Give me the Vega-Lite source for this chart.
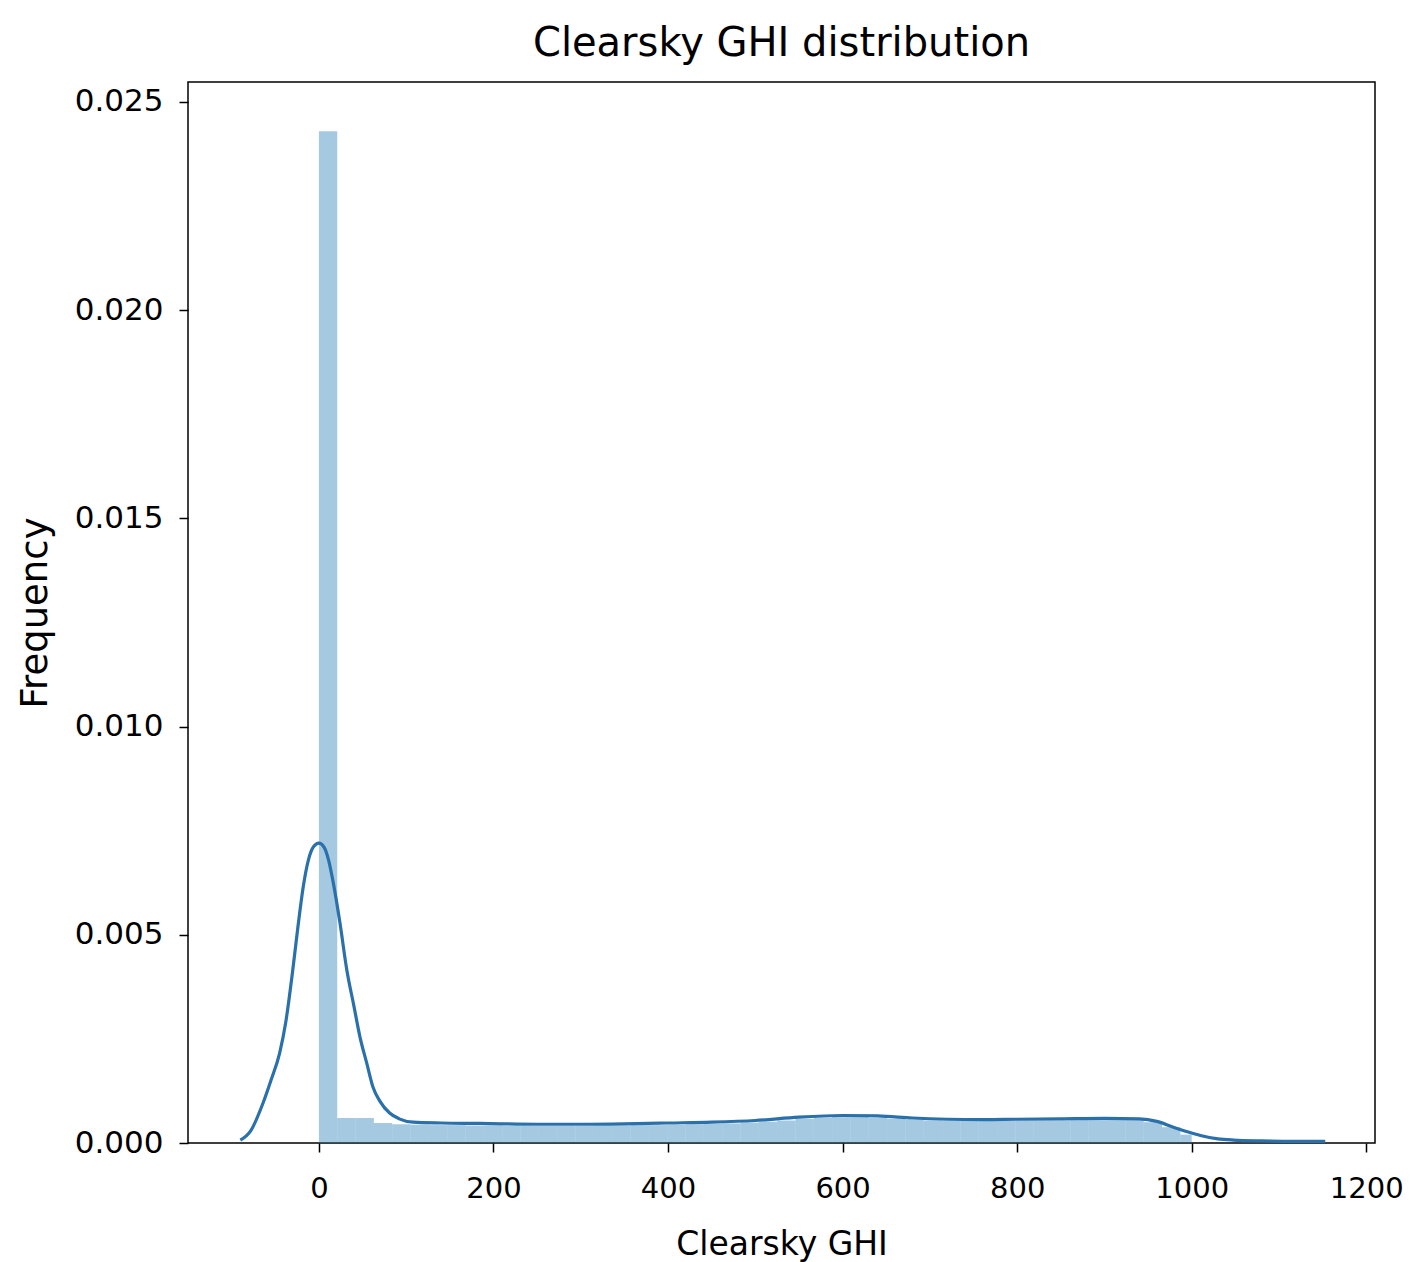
{
  "$schema": "https://vega.github.io/schema/vega-lite/v6.json",
  "autosize": {"type": "none"},
  "width": 1187,
  "height": 1061,
  "padding": {"left": 188, "top": 82, "right": 35, "bottom": 119},
  "background": "white",
  "config": {
    "font": "DejaVu Sans",
    "view": {"stroke": "black", "strokeWidth": 1.5},
    "axis": {
      "grid": false,
      "domain": false,
      "tickColor": "black",
      "tickSize": 9,
      "tickWidth": 1.5,
      "labelColor": "black",
      "labelFont": "DejaVu Sans",
      "labelFontSize": 29,
      "titleFont": "DejaVu Sans",
      "titleFontSize": 33,
      "titleFontWeight": "normal",
      "titleColor": "black"
    }
  },
  "title": {
    "text": "Clearsky GHI distribution",
    "fontSize": 40,
    "fontWeight": "normal",
    "font": "DejaVu Sans",
    "color": "black",
    "anchor": "middle",
    "offset": 18
  },
  "datasets": {
    "hist": [
      {"x0": 0, "x1": 21, "density": 0.0243},
      {"x0": 21, "x1": 42, "density": 0.0006},
      {"x0": 42, "x1": 63, "density": 0.0006},
      {"x0": 63, "x1": 84, "density": 0.00048},
      {"x0": 84, "x1": 105, "density": 0.00045},
      {"x0": 105, "x1": 126, "density": 0.00044},
      {"x0": 126, "x1": 147, "density": 0.00043},
      {"x0": 147, "x1": 168, "density": 0.00043},
      {"x0": 168, "x1": 189, "density": 0.00042},
      {"x0": 189, "x1": 210, "density": 0.00042},
      {"x0": 210, "x1": 231, "density": 0.00041},
      {"x0": 231, "x1": 252, "density": 0.00041},
      {"x0": 252, "x1": 273, "density": 0.00041},
      {"x0": 273, "x1": 294, "density": 0.00041},
      {"x0": 294, "x1": 315, "density": 0.00041},
      {"x0": 315, "x1": 336, "density": 0.00042},
      {"x0": 336, "x1": 357, "density": 0.00042},
      {"x0": 357, "x1": 378, "density": 0.00043},
      {"x0": 378, "x1": 399, "density": 0.00043},
      {"x0": 399, "x1": 420, "density": 0.00044},
      {"x0": 420, "x1": 441, "density": 0.00045},
      {"x0": 441, "x1": 462, "density": 0.00046},
      {"x0": 462, "x1": 483, "density": 0.00047},
      {"x0": 483, "x1": 504, "density": 0.00049},
      {"x0": 504, "x1": 525, "density": 0.00051},
      {"x0": 525, "x1": 546, "density": 0.00054},
      {"x0": 546, "x1": 567, "density": 0.00058},
      {"x0": 567, "x1": 588, "density": 0.0006},
      {"x0": 588, "x1": 609, "density": 0.00062},
      {"x0": 609, "x1": 630, "density": 0.00062},
      {"x0": 630, "x1": 651, "density": 0.0006},
      {"x0": 651, "x1": 672, "density": 0.00058},
      {"x0": 672, "x1": 693, "density": 0.00056},
      {"x0": 693, "x1": 714, "density": 0.00054},
      {"x0": 714, "x1": 735, "density": 0.00053},
      {"x0": 735, "x1": 756, "density": 0.00053},
      {"x0": 756, "x1": 777, "density": 0.00053},
      {"x0": 777, "x1": 798, "density": 0.00053},
      {"x0": 798, "x1": 819, "density": 0.00054},
      {"x0": 819, "x1": 840, "density": 0.00054},
      {"x0": 840, "x1": 861, "density": 0.00054},
      {"x0": 861, "x1": 882, "density": 0.00055},
      {"x0": 882, "x1": 903, "density": 0.00055},
      {"x0": 903, "x1": 924, "density": 0.00055},
      {"x0": 924, "x1": 945, "density": 0.00055},
      {"x0": 945, "x1": 966, "density": 0.0005},
      {"x0": 966, "x1": 987, "density": 0.00038},
      {"x0": 987, "x1": 1000, "density": 0.0002}
    ],
    "kde": [
      {"x": -90, "y": 0.00007},
      {"x": -78, "y": 0.0003},
      {"x": -64, "y": 0.00096},
      {"x": -55, "y": 0.0015},
      {"x": -45, "y": 0.00216},
      {"x": -38, "y": 0.0029},
      {"x": -30, "y": 0.00415},
      {"x": -24, "y": 0.0052},
      {"x": -18, "y": 0.00615},
      {"x": -12, "y": 0.0068},
      {"x": -6, "y": 0.00712},
      {"x": 0, "y": 0.0072},
      {"x": 6, "y": 0.0071},
      {"x": 11, "y": 0.0068},
      {"x": 16, "y": 0.0063},
      {"x": 24, "y": 0.0053},
      {"x": 32, "y": 0.00415},
      {"x": 40, "y": 0.0033},
      {"x": 47, "y": 0.00255},
      {"x": 55, "y": 0.0019},
      {"x": 62, "y": 0.00134},
      {"x": 70, "y": 0.001},
      {"x": 81, "y": 0.00072},
      {"x": 92, "y": 0.00058},
      {"x": 108, "y": 0.0005},
      {"x": 140, "y": 0.00048},
      {"x": 185, "y": 0.00047},
      {"x": 250, "y": 0.00045},
      {"x": 300, "y": 0.00045},
      {"x": 350, "y": 0.00046},
      {"x": 400, "y": 0.00048},
      {"x": 450, "y": 0.0005},
      {"x": 500, "y": 0.00054},
      {"x": 550, "y": 0.00062},
      {"x": 600, "y": 0.00066},
      {"x": 640, "y": 0.00065},
      {"x": 680, "y": 0.0006},
      {"x": 720, "y": 0.00057},
      {"x": 760, "y": 0.00056},
      {"x": 800, "y": 0.00057},
      {"x": 850, "y": 0.00058},
      {"x": 900, "y": 0.00059},
      {"x": 940, "y": 0.00058},
      {"x": 960, "y": 0.00052},
      {"x": 979, "y": 0.00038},
      {"x": 995, "y": 0.00027},
      {"x": 1010, "y": 0.00018},
      {"x": 1030, "y": 0.0001},
      {"x": 1048, "y": 0.00007},
      {"x": 1080, "y": 0.00005},
      {"x": 1120, "y": 0.00004},
      {"x": 1153, "y": 0.00004}
    ]
  },
  "layer": [
    {
      "data": {"name": "hist"},
      "mark": {"type": "rect", "color": "#1f77b4", "opacity": 0.4},
      "encoding": {
        "x": {
          "field": "x0",
          "type": "quantitative",
          "scale": {"domain": [-150, 1210], "nice": false, "zero": false},
          "axis": {"values": [0, 200, 400, 600, 800, 1000, 1200], "format": "d", "title": "Clearsky GHI", "labelPadding": 22, "titlePadding": 25}
        },
        "x2": {"field": "x1"},
        "y": {
          "field": "density",
          "type": "quantitative",
          "scale": {"domain": [0, 0.02548], "nice": false},
          "axis": {"values": [0, 0.005, 0.01, 0.015, 0.02, 0.025], "format": ".3f", "title": "Frequency", "labelFontSize": 31, "labelPadding": 16, "titlePadding": 20, "titleFontSize": 37}
        },
        "y2": {"datum": 0}
      }
    },
    {
      "data": {"name": "kde"},
      "mark": {"type": "line", "color": "#2a70aa", "strokeWidth": 3.2, "interpolate": "monotone"},
      "encoding": {
        "x": {"field": "x", "type": "quantitative"},
        "y": {"field": "y", "type": "quantitative"}
      }
    }
  ]
}
